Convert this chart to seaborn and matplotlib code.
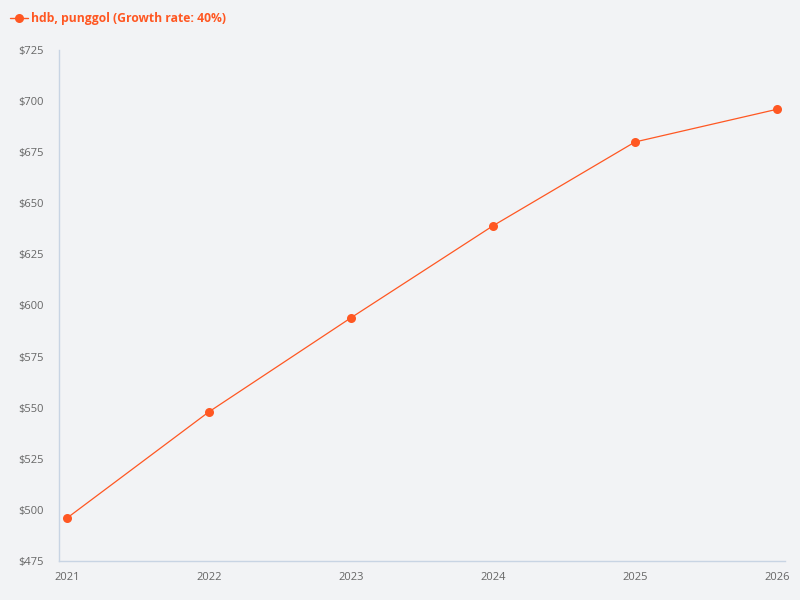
import matplotlib
matplotlib.use("Agg")
import matplotlib.pyplot as plt
import seaborn as sns
import pandas as pd
from matplotlib.lines import Line2D

years = [2021, 2022, 2023, 2024, 2025, 2026]
values = [496, 548, 594, 639, 680, 696]
series_name = "hdb, punggol (Growth rate: 40%)"
yticks = [475, 500, 525, 550, 575, 600, 625, 650, 675, 700, 725]

bg = "#f2f3f5"
color = "#ff5722"
axis_col = "#c8d4e3"
text_col = "#666666"

sns.set_theme(style="white")
plt.rcParams['font.family'] = ['Open Sans', 'Noto Sans', 'DejaVu Sans']

df = pd.DataFrame({"year": years, "value": values})

fig = plt.figure(figsize=(8, 6), dpi=100, facecolor=bg)
ax = fig.add_axes([59/800, 1-561/600, (785-59)/800, (561-50)/600])
ax.set_facecolor(bg)

sns.lineplot(data=df, x="year", y="value", ax=ax, color=color, linewidth=0.9,
             marker="o", markersize=6.5, markeredgewidth=0, legend=False)

ax.set_xlim(2021 - 8/142, 2026 + 8/142)
ax.set_ylim(475, 725)
ax.set_xticks(years)
ax.set_xticklabels([str(y) for y in years])
ax.set_yticks(yticks)
ax.set_yticklabels([f"${v}" for v in yticks])
ax.set_xlabel("")
ax.set_ylabel("")
ax.tick_params(axis="both", length=0, labelsize=8, colors=text_col)
ax.tick_params(axis="y", pad=11)
ax.tick_params(axis="x", pad=8)
for s in ["top", "right"]:
    ax.spines[s].set_visible(False)
for s in ["left", "bottom"]:
    ax.spines[s].set_color(axis_col)
    ax.spines[s].set_linewidth(1)
ax.grid(False)

handle = Line2D([0], [0], color=color, linewidth=1, marker="o", markersize=6.5,
                markeredgewidth=0)
leg = fig.legend([handle], [series_name], loc="upper left", bbox_to_anchor=(0.0, 0.996),
                 frameon=False, handlelength=1.5, handletextpad=0.3,
                 borderaxespad=0.4,
                 prop={"family": ["Open Sans", "DejaVu Sans"], "weight": "bold", "size": 8.7})
for t in leg.get_texts():
    t.set_color(color)

fig.savefig("out.png", dpi=100, facecolor=bg)
